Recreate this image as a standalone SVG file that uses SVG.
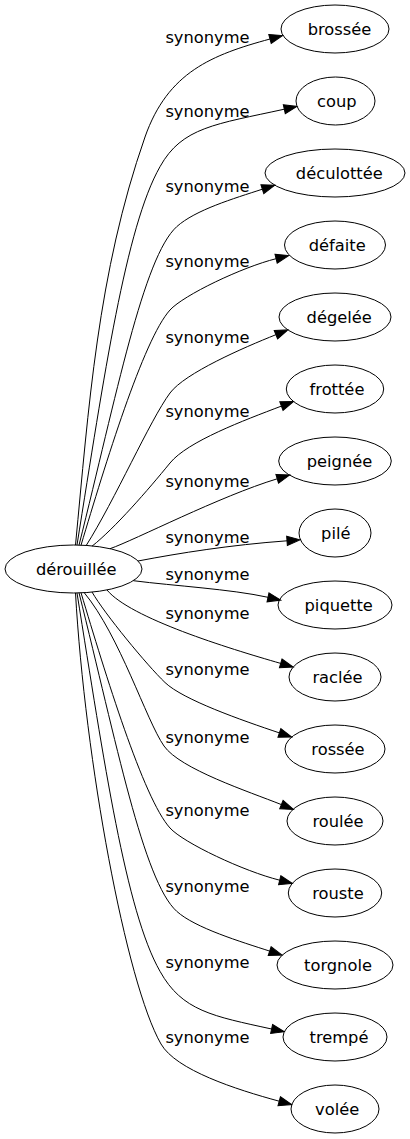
<svg xmlns="http://www.w3.org/2000/svg" width="410" height="1139" viewBox="0 0 410 1139">
<style>
.n ellipse{fill:none;stroke:#000;stroke-width:1}
text{font-family:"DejaVu Sans",sans-serif;font-size:16.3px;fill:#000}
.n text{text-anchor:middle}
.lbl{text-anchor:middle}
.e path{fill:none;stroke:#000;stroke-width:1;marker-end:url(#ah)}
</style>
<defs>
<marker id="ah" markerUnits="userSpaceOnUse" markerWidth="14" markerHeight="10" viewBox="0 0 14 10" refX="0" refY="5" orient="auto" overflow="visible">
<path d="M0,0.4 L13,5 L0,9.6 z" fill="#000" stroke="#000" stroke-width="1"/>
</marker>
</defs>
<rect width="410" height="1139" fill="#fff"/>
<g id="edges" class="e">
<path d="M75.5,545 C88.6,409 97.4,273 145,137 C167.8,72 212,54.8 270,39"/>
<path d="M77,545 C104.2,375 125.8,226.7 160,166.7 C182,127 215.9,124.2 284.3,109.2"/>
<path d="M79,545.2 C116.5,395.2 143.4,256.9 176.7,226.7 C195.2,209.95 233.85,198.5 262.35,189.2"/>
<path d="M81,545.3 C105,465.3 143.2,339.6 170,310 C183.4,295.2 242.15,267.1 276.1,258.7"/>
<path d="M86,545.8 C115,500 150,420 170,393 C184.7,373.2 243.4,347.65 275.9,334.7"/>
<path d="M92,546.2 C115,528 148,490 170,463 C187.6,441.4 244,420.3 281.4,406.1"/>
<path d="M110,548.7 C135,540 219.8,496.2 277.2,478.8"/>
<path d="M138,561 C180,553 230,545 287,540.8"/>
<path d="M133.3,580.7 C175,586 230,589 268,597.3"/>
<path d="M107,590 C130,618 227.8,648.2 280.7,663.4"/>
<path d="M92,592 C104.5,613.7 147,665.3 165,682.5 C183,699.75 241.5,720.2 279.4,732.9"/>
<path d="M84,592.4 C120,636 146,720 164,746 C180,769 248.85,791.65 281.4,804.6"/>
<path d="M81,592.7 C105,672.7 143.2,798.4 170,828 C183.4,842.8 243.8,871.3 279.7,880.2"/>
<path d="M79,592.8 C116.5,742.8 143.4,881.1 176.7,911.3 C195.2,928.05 241.15,941.8 269.65,951.1"/>
<path d="M77,593 C104.2,763 125.8,911.3 160,971.3 C182,1011 213,1016.2 271.6,1029"/>
<path d="M75.5,593 C85,760 126,983 161,1044 C176,1070.1 235.8,1089.4 279.2,1101.2"/>
</g>
<g id="labels">
<text class="lbl" x="207.5" y="43">synonyme</text>
<text class="lbl" x="207.5" y="117.3">synonyme</text>
<text class="lbl" x="207.5" y="191.7">synonyme</text>
<text class="lbl" x="207.5" y="267">synonyme</text>
<text class="lbl" x="207.5" y="343">synonyme</text>
<text class="lbl" x="207.5" y="416.7">synonyme</text>
<text class="lbl" x="207.5" y="487">synonyme</text>
<text class="lbl" x="207.5" y="543">synonyme</text>
<text class="lbl" x="207.5" y="580">synonyme</text>
<text class="lbl" x="207.5" y="619">synonyme</text>
<text class="lbl" x="207.5" y="675">synonyme</text>
<text class="lbl" x="207.5" y="742.7">synonyme</text>
<text class="lbl" x="207.5" y="816">synonyme</text>
<text class="lbl" x="207.5" y="892">synonyme</text>
<text class="lbl" x="207.5" y="968">synonyme</text>
<text class="lbl" x="207.5" y="1043.3">synonyme</text>
</g>
<g id="n-derouillee" class="n"><ellipse cx="73.5" cy="569" rx="68.5" ry="24"/><text x="76.2" y="575">dérouillée</text></g>
<g id="n-brossee" class="n"><ellipse cx="335" cy="29" rx="54" ry="24"/><text x="339.5" y="35">brossée</text></g>
<g id="n-coup" class="n"><ellipse cx="335.5" cy="101" rx="39.5" ry="24"/><text x="336.8" y="107">coup</text></g>
<g id="n-deculottee" class="n"><ellipse cx="335" cy="173" rx="70" ry="24"/><text x="339.3" y="179">déculottée</text></g>
<g id="n-defaite" class="n"><ellipse cx="335" cy="245" rx="50.5" ry="24"/><text x="337.2" y="251">défaite</text></g>
<g id="n-degelee" class="n"><ellipse cx="335" cy="317" rx="56" ry="24"/><text x="339.2" y="323">dégelée</text></g>
<g id="n-frottee" class="n"><ellipse cx="335" cy="389" rx="48.7" ry="24"/><text x="337" y="395">frottée</text></g>
<g id="n-peignee" class="n"><ellipse cx="335" cy="461" rx="56.3" ry="24"/><text x="339.5" y="467">peignée</text></g>
<g id="n-pile" class="n"><ellipse cx="335" cy="533" rx="36" ry="24"/><text x="335.8" y="539">pilé</text></g>
<g id="n-piquette" class="n"><ellipse cx="335" cy="605" rx="57" ry="24"/><text x="338.7" y="611">piquette</text></g>
<g id="n-raclee" class="n"><ellipse cx="335" cy="677" rx="46" ry="24"/><text x="337.5" y="683">raclée</text></g>
<g id="n-rossee" class="n"><ellipse cx="335" cy="749" rx="50" ry="24"/><text x="338" y="755">rossée</text></g>
<g id="n-roulee" class="n"><ellipse cx="335" cy="821" rx="48" ry="24"/><text x="338" y="827">roulée</text></g>
<g id="n-rouste" class="n"><ellipse cx="335" cy="893" rx="46.7" ry="24"/><text x="338" y="899">rouste</text></g>
<g id="n-torgnole" class="n"><ellipse cx="335" cy="965" rx="58" ry="24"/><text x="338" y="971">torgnole</text></g>
<g id="n-trempe" class="n"><ellipse cx="335" cy="1037" rx="52" ry="24"/><text x="339" y="1043">trempé</text></g>
<g id="n-volee" class="n"><ellipse cx="335" cy="1109" rx="44" ry="24"/><text x="337.2" y="1115">volée</text></g>
</svg>
